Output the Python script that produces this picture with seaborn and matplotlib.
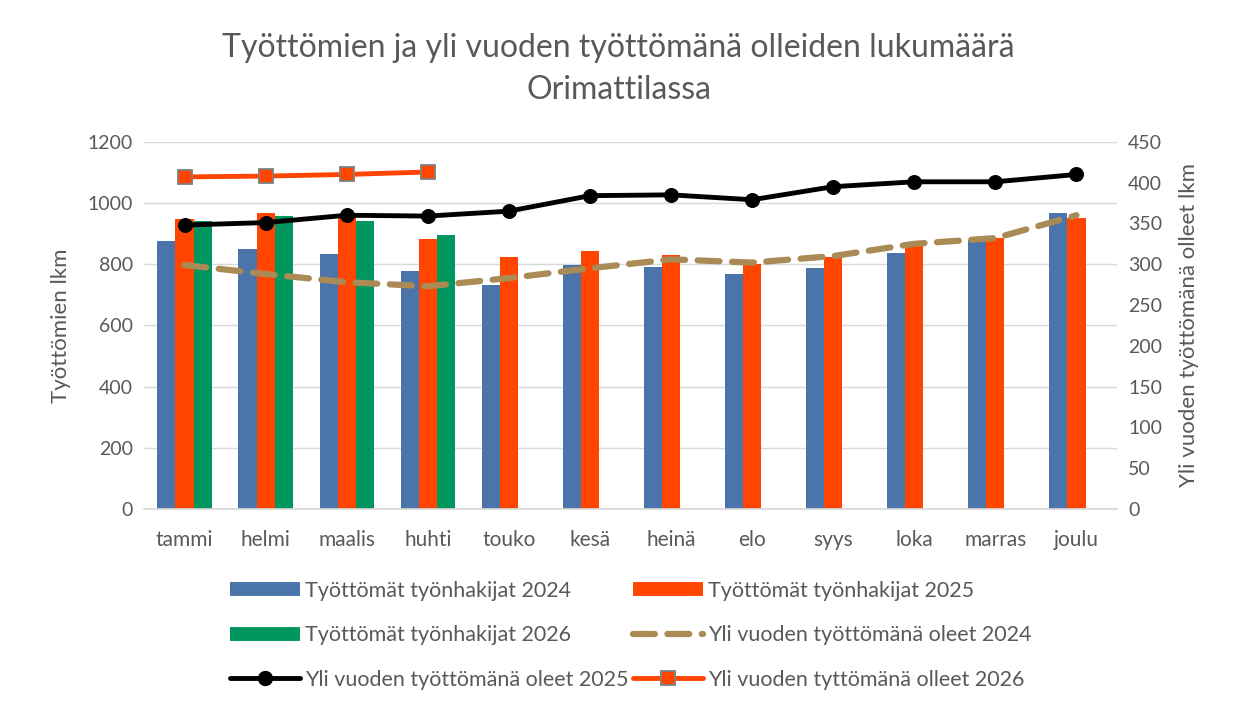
import numpy as np
import pandas as pd
import seaborn as sns
import matplotlib.pyplot as plt
from matplotlib.lines import Line2D

months = ['tammi', 'helmi', 'maalis', 'huhti', 'touko', 'kesä',
          'heinä', 'elo', 'syys', 'loka', 'marras', 'joulu']

# Työttömät työnhakijat (left axis)
tyottomat_2024 = [877, 850, 834, 778, 732, 798, 791, 768, 788, 837, 880, 968]
tyottomat_2025 = [948, 968, 961, 883, 824, 844, 831, 801, 824, 860, 886, 952]
tyottomat_2026 = [942, 958, 942, 896]

# Yli vuoden työttömänä olleet (right axis)
pitkat_2024 = [299, 288, 278, 273, 283, 295, 306, 302, 310, 325, 332, 360]
pitkat_2025 = [348, 351, 360, 359, 365, 384, 385, 379, 395, 401, 401, 410]
pitkat_2026 = [407, 408, 410, 413]

bar_labels = ['Työttömät työnhakijat 2024', 'Työttömät työnhakijat 2025',
              'Työttömät työnhakijat 2026']
line_labels = ['Yli vuoden työttömänä oleet 2024', 'Yli vuoden työttömänä oleet 2025',
               'Yli vuoden tyttömänä olleet 2026']

c_blue = '#4A74AA'
c_orange = '#FF4500'
c_green = '#00965E'
c_tan = '#AA8B55'
c_text = '#595959'

sns.set_theme(style='white')
plt.rcParams['font.family'] = ['Lato', 'DejaVu Sans']

def pad(vals):
    return list(vals) + [np.nan] * (len(months) - len(vals))

df = pd.DataFrame({
    'kk': months * 3,
    'sarja': np.repeat(bar_labels, len(months)),
    'lkm': tyottomat_2024 + tyottomat_2025 + pad(tyottomat_2026),
})

fig = plt.figure(figsize=(12.37, 7.09), dpi=100)
ax = fig.add_axes([0.1164, 0.282, 0.7866, 0.518])

sns.barplot(data=df, x='kk', y='lkm', hue='sarja', order=months,
            palette=[c_blue, c_orange, c_green], width=0.67, gap=0,
            saturation=1, legend=False, ax=ax, errorbar=None, linewidth=0)
ax.set_xlim(-0.5, len(months) - 0.5)
ax.set_ylim(0, 1200)
ax.set_yticks(range(0, 1201, 200))
ax.yaxis.grid(True, color='#D9D9D9', lw=1)
ax.set_axisbelow(True)
for s in ['top', 'right', 'left']:
    ax.spines[s].set_visible(False)
ax.spines['bottom'].set_color('#D9D9D9')
ax.tick_params(axis='both', length=0, labelsize=14, labelcolor=c_text, pad=8)
ax.tick_params(axis='x', pad=15, labelsize=15)
ax.set_xlabel('')
ax.set_ylabel('Työttömien lkm', fontsize=16, color=c_text, labelpad=12)

ax2 = ax.twinx()
x = np.arange(len(months))
sns.lineplot(x=x, y=pitkat_2024, ax=ax2, color=c_tan, lw=4.5,
             dashes=False, linestyle=(0, (3.5, 2)))
ax2.lines[-1].set_dash_capstyle('round')
sns.lineplot(x=x, y=pitkat_2025, ax=ax2, color='black', lw=3.5,
             marker='o', markersize=10, markeredgecolor='black')
sns.lineplot(x=x[:len(pitkat_2026)], y=pitkat_2026, ax=ax2, color=c_orange,
             lw=3.5, marker='s', markersize=10, markeredgecolor='#7F7F7F',
             markeredgewidth=1.3)
ax2.set_ylim(0, 450)
ax2.set_yticks(range(0, 451, 50))
for s in ax2.spines.values():
    s.set_visible(False)
ax2.tick_params(axis='y', length=0, labelsize=14, labelcolor=c_text, pad=8)
ax2.set_ylabel('Yli vuoden työttömänä olleet lkm', fontsize=16, color=c_text,
               labelpad=12)

fig.text(0.5, 0.902, 'Työttömien ja yli vuoden työttömänä olleiden lukumäärä\nOrimattilassa',
         ha='center', va='center', fontsize=23, color=c_text, linespacing=1.5)

handles = [
    Line2D([], [], color=c_blue, lw=10, solid_capstyle='butt'),
    Line2D([], [], color=c_green, lw=10, solid_capstyle='butt'),
    Line2D([], [], color='black', lw=3.5, marker='o', markersize=10),
    Line2D([], [], color=c_orange, lw=10, solid_capstyle='butt'),
    Line2D([], [], color=c_tan, lw=4.5, linestyle=(0, (3.5, 2)),
           dash_capstyle='round'),
    Line2D([], [], color=c_orange, lw=3.5, marker='s', markersize=10,
           markeredgecolor='#7F7F7F', markeredgewidth=1.3),
]
labels = [bar_labels[0], bar_labels[2], line_labels[1],
          bar_labels[1], line_labels[0], line_labels[2]]
fig.legend(handles, labels, loc='lower center', bbox_to_anchor=(0.51, 0.0),
           ncol=2, frameon=False, fontsize=15.5, labelcolor=c_text,
           handlelength=3.25, handletextpad=0.25, columnspacing=0.2,
           labelspacing=1.13)

fig.savefig('out.png', dpi=100, facecolor='white')
